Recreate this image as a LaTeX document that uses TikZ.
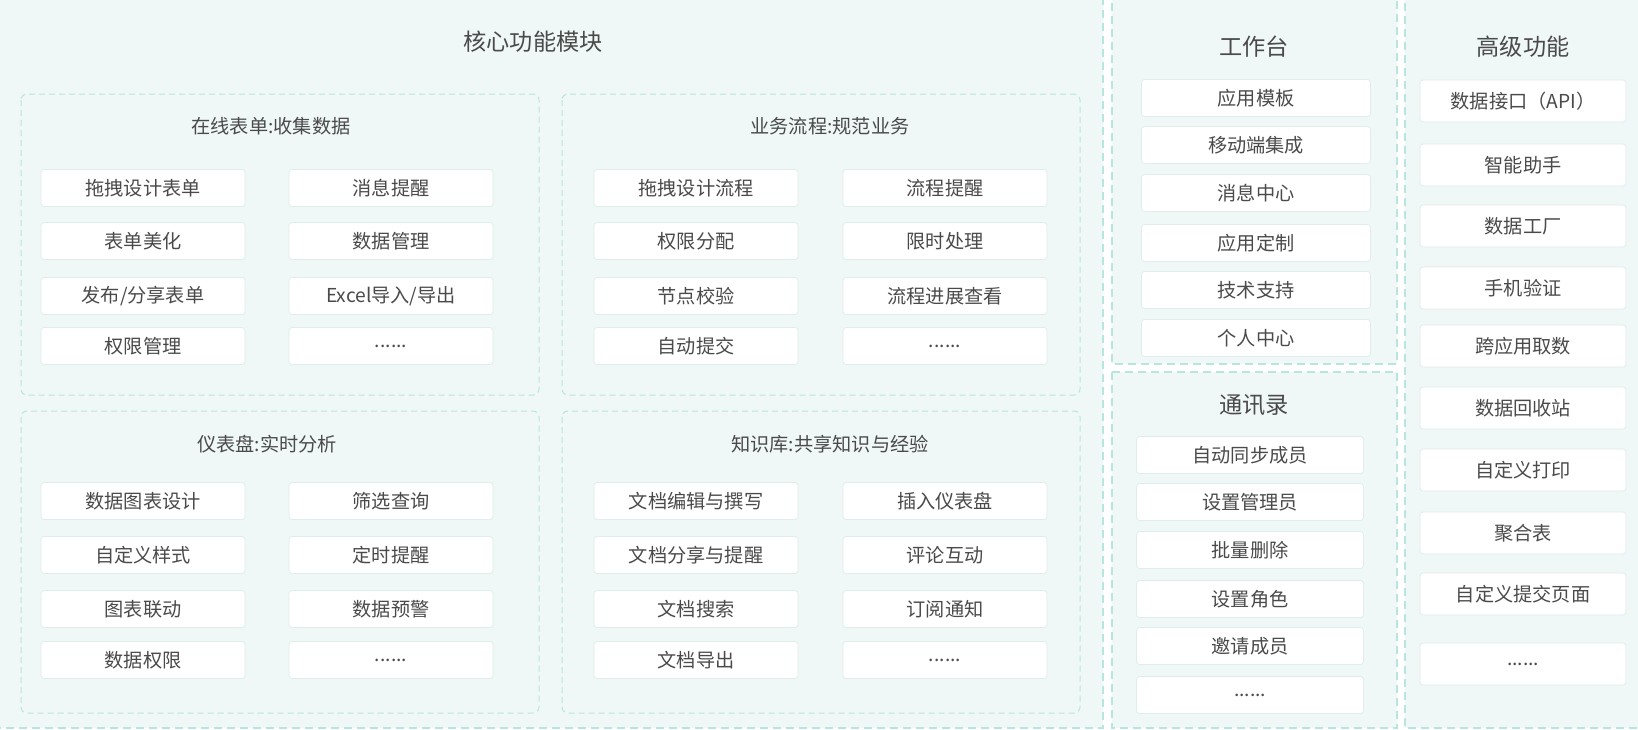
\documentclass[tikz,border=0pt]{standalone}
\usepackage{fontspec}
\setmainfont{Noto Sans CJK SC}
\definecolor{bgmint}{HTML}{EFF8F7}
\definecolor{dashc}{HTML}{B9E5DF}
\definecolor{boxline}{HTML}{DFEDEB}
\definecolor{txt}{HTML}{4A4A4A}
\tikzset{
  outerpanel/.style={fill=bgmint, draw=dashc, line width=0.7pt, dash pattern=on 4pt off 2.5pt},
  innerpanel/.style={draw=dashc, line width=0.5pt, dash pattern=on 3pt off 2pt, rounded corners=3pt},
  item/.style={fill=white, draw=boxline, line width=0.4pt, rounded corners=1.5pt, text=txt,
    font=\fontsize{9.6}{11}\selectfont, inner sep=0pt, minimum width=102pt, minimum height=18.5pt},
  wbitem/.style={item, minimum width=114.5pt},
  aditem/.style={item, minimum width=113.5pt},
  hiitem/.style={item, minimum width=103pt, minimum height=21pt},
  ptitle/.style={text=txt, font=\fontsize{9.6}{11}\selectfont, inner sep=0pt},
  bigtitle/.style={text=txt, font=\fontsize{11.6}{13}\selectfont, inner sep=0pt},
}
\begin{document}
\begin{tikzpicture}[x=0.5pt,y=-0.5pt]
\useasboundingbox (0,0) rectangle (1638,729);
\fill[white] (0,0) rectangle (1638,729);
\clip (0,0) rectangle (1638,729);
% outer panels
\draw[outerpanel] (-10,-10) rectangle (1103,728);
\draw[outerpanel] (1112,-10) rectangle (1397,364);
\draw[outerpanel] (1112,372) rectangle (1397,728);
\draw[outerpanel] (1405,-10) rectangle (1660,728);
% core
\node[bigtitle] (core) at (533,42) {核心功能模块};
\draw[innerpanel] (21,94) rectangle (539,395);
\draw[innerpanel] (562,94) rectangle (1080,395);
\draw[innerpanel] (21,411) rectangle (539,713);
\draw[innerpanel] (562,411) rectangle (1080,713);
\node[ptitle] (ta) at (271,126) {在线表单:收集数据};
\node[ptitle] (tb) at (830,126) {业务流程:规范业务};
\node[ptitle] (tc) at (267,444) {仪表盘:实时分析};
\node[ptitle] (td) at (830,444) {知识库:共享知识与经验};
% panel A
\node[item] (a1) at (143,188) {拖拽设计表单};
\node[item] (a2) at (391,188) {消息提醒};
\node[item] (a3) at (143,241) {表单美化};
\node[item] (a4) at (391,241) {数据管理};
\node[item] (a5) at (143,296) {发布/分享表单};
\node[item] (a6) at (391,296) {Excel导入/导出};
\node[item] (a7) at (143,346) {权限管理};
\node[item] (a8) at (391,346) {......};
% panel B
\node[item] (b1) at (696,188) {拖拽设计流程};
\node[item] (b2) at (945,188) {流程提醒};
\node[item] (b3) at (696,241) {权限分配};
\node[item] (b4) at (945,241) {限时处理};
\node[item] (b5) at (696,296) {节点校验};
\node[item] (b6) at (945,296) {流程进展查看};
\node[item] (b7) at (696,346) {自动提交};
\node[item] (b8) at (945,346) {......};
% panel C
\node[item] (c1) at (143,501) {数据图表设计};
\node[item] (c2) at (391,501) {筛选查询};
\node[item] (c3) at (143,555) {自定义样式};
\node[item] (c4) at (391,555) {定时提醒};
\node[item] (c5) at (143,609) {图表联动};
\node[item] (c6) at (391,609) {数据预警};
\node[item] (c7) at (143,660) {数据权限};
\node[item] (c8) at (391,660) {......};
% panel D
\node[item] (d1) at (696,501) {文档编辑与撰写};
\node[item] (d2) at (945,501) {插入仪表盘};
\node[item] (d3) at (696,555) {文档分享与提醒};
\node[item] (d4) at (945,555) {评论互动};
\node[item] (d5) at (696,609) {文档搜索};
\node[item] (d6) at (945,609) {订阅通知};
\node[item] (d7) at (696,660) {文档导出};
\node[item] (d8) at (945,660) {......};
% workbench
\node[bigtitle] (wb) at (1254,47) {工作台};
\node[wbitem] (w1) at (1256,98) {应用模板};
\node[wbitem] (w2) at (1256,145) {移动端集成};
\node[wbitem] (w3) at (1256,193) {消息中心};
\node[wbitem] (w4) at (1256,243) {应用定制};
\node[wbitem] (w5) at (1256,290) {技术支持};
\node[wbitem] (w6) at (1256,338) {个人中心};
% address book
\node[bigtitle] (ab) at (1254,405) {通讯录};
\node[aditem] (r1) at (1250,455) {自动同步成员};
\node[aditem] (r2) at (1250,502) {设置管理员};
\node[aditem] (r3) at (1250,550) {批量删除};
\node[aditem] (r4) at (1250,599) {设置角色};
\node[aditem] (r5) at (1250,646) {邀请成员};
\node[aditem] (r6) at (1250,695) {......};
% advanced
\node[bigtitle] (hi) at (1523,47) {高级功能};
\node[hiitem] (h1) at (1523,101) {数据接口（API）};
\node[hiitem] (h2) at (1523,165) {智能助手};
\node[hiitem] (h3) at (1523,226) {数据工厂};
\node[hiitem] (h4) at (1523,288) {手机验证};
\node[hiitem] (h5) at (1523,346) {跨应用取数};
\node[hiitem] (h6) at (1523,408) {数据回收站};
\node[hiitem] (h7) at (1523,470) {自定义打印};
\node[hiitem] (h8) at (1523,533) {聚合表};
\node[hiitem] (h9) at (1523,594) {自定义提交页面};
\node[hiitem] (h10) at (1523,664) {......};
\end{tikzpicture}
\end{document}
